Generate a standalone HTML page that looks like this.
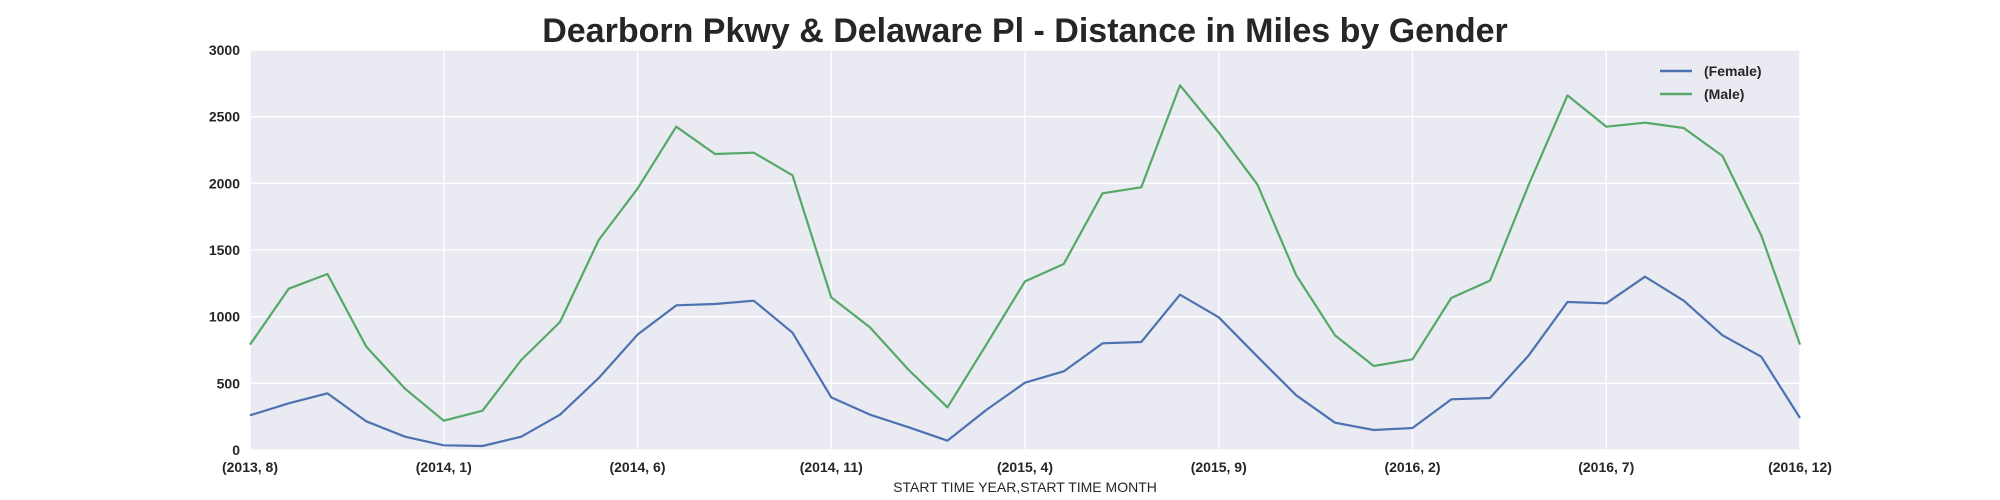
<!DOCTYPE html>
<html><head><meta charset="utf-8"><style>
body{margin:0;background:#fff;}
svg{display:block;font-family:"Liberation Sans",Arial,sans-serif;}
</style></head><body>
<svg id="chart" width="2000" height="500" viewBox="0 0 2000 500">
<text x="1025" y="42" text-anchor="middle" font-size="34" font-weight="bold" fill="#262626">Dearborn Pkwy &amp; Delaware Pl - Distance in Miles by Gender</text>
<rect x="250" y="50" width="1550" height="400" fill="#eaeaf2"/>
<g id="grid"></g><g id="lines"></g><g id="ticks"></g>
<text x="1025" y="492" text-anchor="middle" font-size="14" fill="#262626">START TIME YEAR,START TIME MONTH</text>
<g>
<line x1="1660" y1="71" x2="1692" y2="71" stroke="#4c72b0" stroke-width="2.5"/>
<text x="1704" y="76" font-size="14" font-weight="bold" fill="#262626">(Female)</text>
<line x1="1660" y1="94" x2="1692" y2="94" stroke="#55a868" stroke-width="2.5"/>
<text x="1704" y="99" font-size="14" font-weight="bold" fill="#262626">(Male)</text>
</g>
</svg>
<script>
const female=[260,350,425,215,100,35,30,100,265,540,865,1085,1095,1120,880,395,265,170,70,300,505,590,800,810,1165,995,700,410,205,150,165,380,390,710,1110,1100,1300,1120,860,700,240];
const male=[790,1210,1320,775,460,220,295,675,960,1575,1960,2425,2220,2230,2060,1145,920,600,320,790,1265,1395,1925,1970,2735,2380,1990,1310,860,630,680,1140,1270,1990,2660,2425,2455,2415,2205,1610,790];
const xTickIdx=[0,5,10,15,20,25,30,35,40];
const xTickLabels=["(2013, 8)","(2014, 1)","(2014, 6)","(2014, 11)","(2015, 4)","(2015, 9)","(2016, 2)","(2016, 7)","(2016, 12)"];
const yTicks=[0,500,1000,1500,2000,2500,3000];
const X0=250,X1=1800,Y0=450,Y1=50,N=41,YMAX=3000;
const xs=i=>X0+i*(X1-X0)/(N-1);
const ys=v=>Y0-v*(Y0-Y1)/YMAX;
const NS="http://www.w3.org/2000/svg";
const grid=document.getElementById('grid'),lines=document.getElementById('lines'),ticks=document.getElementById('ticks');
function mk(t,a,p){const e=document.createElementNS(NS,t);for(const k in a)e.setAttribute(k,a[k]);p.appendChild(e);return e;}
yTicks.forEach(v=>{
  const l=mk('line',{x1:X0,x2:X1,y1:ys(v),y2:ys(v),stroke:'#fff','stroke-width':1.3},grid);
  
  
  const t=mk('text',{x:X0-10,y:ys(v)+5,'text-anchor':'end','font-size':14,'font-weight':'bold',fill:'#262626'},ticks);
  t.textContent=v;
  
  
});
xTickIdx.forEach((idx,k)=>{
  const l=mk('line',{x1:xs(idx),x2:xs(idx),y1:Y1,y2:Y0,stroke:'#fff','stroke-width':1.3},grid);
  
  
  const t=mk('text',{x:xs(idx),y:472,'text-anchor':'middle','font-size':14,'font-weight':'bold',fill:'#262626'},ticks);
  t.textContent=xTickLabels[k];
  
  
});
function series(data,color,name){
  const p=mk('polyline',{points:data.map((v,i)=>xs(i)+','+ys(v)).join(' '),fill:'none',stroke:color,'stroke-width':2.2,'stroke-linejoin':'round'},lines);
  
  
}
series(female,'#4c72b0','female-line');
series(male,'#55a868','male-line');
</script>
</body></html>
